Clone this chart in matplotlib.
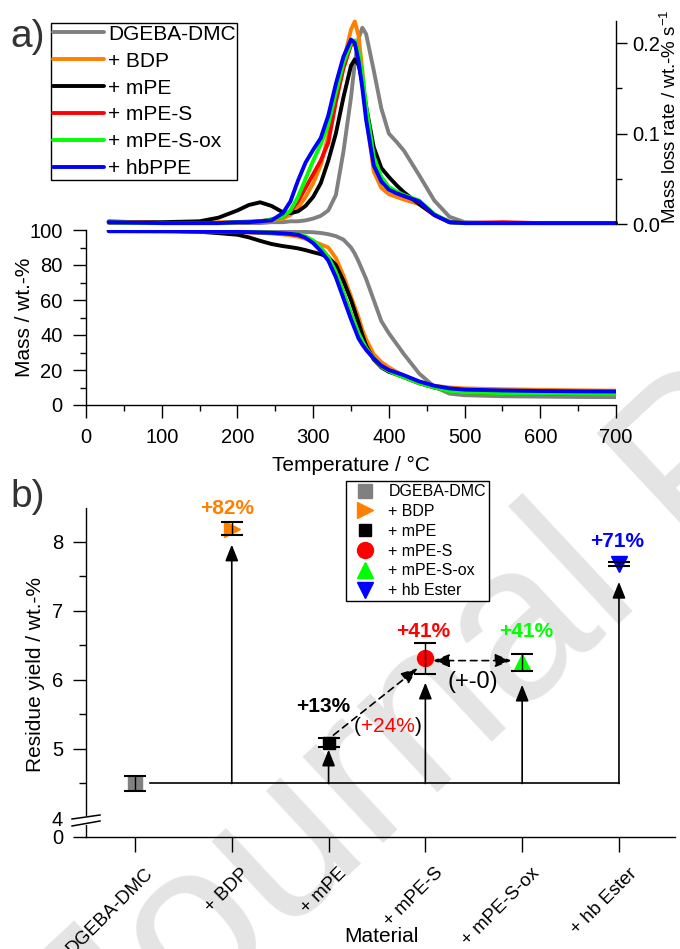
import numpy as np
import matplotlib
matplotlib.use('Agg')
from matplotlib import pyplot as plt
from matplotlib.ticker import MultipleLocator, FixedLocator, FormatStrFormatter
from matplotlib.lines import Line2D
from matplotlib.transforms import ScaledTranslation

plt.rcParams['font.family'] = ['Liberation Sans', 'DejaVu Sans']
plt.rcParams['mathtext.fontset'] = 'custom'
plt.rcParams['mathtext.rm'] = 'Liberation Sans'
plt.rcParams['mathtext.it'] = 'Liberation Sans:italic'
plt.rcParams['axes.linewidth'] = 1.0

W, H = 680, 949

# ---- a) TGA / DTG ----
series = ['DGEBA-DMC', '+ BDP', '+ mPE', '+ mPE-S', '+ mPE-S-ox', '+ hbPPE']
colors = ['#808080', '#FF8000', '#000000', '#FF0000', '#00FF00', '#0000FF']

temp = [30, 100, 150, 175, 200, 215, 230, 245, 260, 270, 280, 290, 300, 310, 320,
        330, 340, 350, 355, 360, 365, 370, 380, 390, 400, 410, 420, 440, 460, 480,
        500, 550, 600, 650, 700]

mass_dgeba = [99.8, 99.7, 99.6, 99.6, 99.5, 99.5, 99.4, 99.3, 99.2, 99.1, 99.0, 98.9, 98.7, 98.3, 97.6,
              96.5, 94.5, 90.0, 86.5, 82.0, 77.0, 72.0, 60.0, 48.0, 41.0, 35.0, 29.0, 18.0, 10.5, 6.5,
              5.6, 5.0, 4.8, 4.6, 4.5]
mass_bdp = [99.8, 99.7, 99.5, 99.3, 99.0, 98.7, 98.4, 98.0, 97.5, 97.0, 96.2, 95.0, 93.5, 91.8, 90.0,
            84.0, 74.0, 62.0, 56.0, 50.0, 43.0, 37.5, 29.0, 24.5, 21.5, 19.0, 16.8, 13.2, 11.0, 10.0,
            9.5, 9.0, 8.7, 8.4, 8.2]
mass_mpe = [99.8, 99.6, 99.0, 98.2, 97.3, 95.8, 93.8, 92.0, 90.8, 90.2, 89.5, 88.5, 87.3, 86.2, 84.5,
            80.0, 71.0, 60.0, 53.5, 47.0, 40.0, 34.0, 26.0, 21.5, 19.0, 17.5, 16.0, 12.5, 10.0, 8.3,
            7.4, 7.0, 6.8, 6.6, 6.5]
mass_mpes = [99.6, 99.5, 99.3, 99.1, 98.9, 98.7, 98.5, 98.3, 98.0, 97.6, 97.0, 95.8, 93.5, 89.8, 84.5,
             76.0, 64.0, 52.0, 46.5, 41.0, 36.5, 32.5, 26.5, 22.0, 19.5, 17.5, 15.8, 12.5, 10.0, 8.2,
             7.3, 6.8, 6.6, 6.4, 6.3]
mass_mpesox = [99.5, 99.4, 99.2, 99.1, 98.9, 98.8, 98.6, 98.4, 98.2, 97.9, 97.5, 96.3, 94.0, 90.0, 84.5,
               76.0, 64.0, 52.0, 46.5, 41.0, 36.5, 32.5, 26.5, 22.0, 19.5, 17.5, 15.8, 12.5, 10.0, 8.0,
               7.2, 6.8, 6.6, 6.4, 6.3]
mass_hbppe = [99.3, 99.2, 99.1, 99.0, 98.9, 98.8, 98.6, 98.4, 98.1, 97.8, 97.3, 95.5, 92.5, 88.0, 82.5,
              73.0, 61.0, 49.0, 43.5, 38.0, 34.5, 31.5, 26.5, 22.5, 20.0, 18.5, 17.0, 13.5, 11.0, 9.5,
              8.8, 8.3, 8.0, 7.8, 7.7]

rate_dgeba = [0.001, 0.001, 0.001, 0.001, 0.001, 0.001, 0.001, 0.002, 0.002, 0.003, 0.003, 0.004, 0.006, 0.009, 0.015,
              0.032, 0.080, 0.140, 0.178, 0.205, 0.217, 0.210, 0.170, 0.128, 0.100, 0.091, 0.081, 0.054, 0.026, 0.008,
              0.002, 0.001, 0.001, 0.001, 0.001]
rate_bdp = [0.002, 0.001, 0.001, 0.002, 0.002, 0.003, 0.003, 0.004, 0.006, 0.010, 0.018, 0.030, 0.045, 0.065, 0.098,
            0.140, 0.180, 0.215, 0.224, 0.208, 0.170, 0.120, 0.058, 0.040, 0.033, 0.030, 0.027, 0.022, 0.010, 0.003,
            0.001, 0.001, 0.001, 0.001, 0.001]
rate_mpe = [0.002, 0.002, 0.003, 0.007, 0.015, 0.021, 0.024, 0.020, 0.013, 0.012, 0.014, 0.020, 0.030, 0.045, 0.070,
            0.100, 0.140, 0.175, 0.182, 0.176, 0.157, 0.130, 0.085, 0.062, 0.052, 0.043, 0.035, 0.022, 0.010, 0.002,
            0.001, 0.001, 0.001, 0.001, 0.001]
rate_mpes = [0.003, 0.001, 0.001, 0.001, 0.002, 0.002, 0.003, 0.005, 0.008, 0.014, 0.025, 0.040, 0.055, 0.070, 0.090,
             0.135, 0.172, 0.198, 0.200, 0.188, 0.160, 0.125, 0.070, 0.050, 0.040, 0.035, 0.031, 0.025, 0.010, 0.002,
             0.001, 0.002, 0.001, 0.001, 0.001]
rate_mpesox = [0.002, 0.001, 0.001, 0.001, 0.002, 0.002, 0.003, 0.005, 0.008, 0.015, 0.030, 0.050, 0.070, 0.088, 0.110,
               0.145, 0.178, 0.200, 0.203, 0.190, 0.165, 0.130, 0.075, 0.052, 0.041, 0.036, 0.032, 0.026, 0.011, 0.002,
               0.001, 0.001, 0.001, 0.001, 0.001]
rate_hbppe = [0.002, 0.001, 0.001, 0.001, 0.002, 0.002, 0.003, 0.004, 0.012, 0.025, 0.048, 0.068, 0.082, 0.095, 0.120,
              0.155, 0.185, 0.204, 0.200, 0.180, 0.150, 0.115, 0.065, 0.047, 0.038, 0.034, 0.031, 0.025, 0.010, 0.002,
              0.001, 0.001, 0.001, 0.001, 0.001]

masses = [mass_dgeba, mass_bdp, mass_mpe, mass_mpes, mass_mpesox, mass_hbppe]
rates = [rate_dgeba, rate_bdp, rate_mpe, rate_mpes, rate_mpesox, rate_hbppe]

# ---- b) residue yield ----
materials = ['DGEBA-DMC', '+ BDP', '+ mPE', '+ mPE-S', '+ mPE-S-ox', '+ hb Ester']
residue = [4.50, 8.19, 5.09, 6.32, 6.26, 7.68]
err_low = [0.11, 0.09, 0.06, 0.23, 0.13, 0.03]
err_high = [0.11, 0.09, 0.07, 0.22, 0.12, 0.03]
b_markers = ['s', '>', 's', 'o', '^', 'v']
b_sizes = [9.5, 12, 9, 11.5, 12, 12]
b_colors = ['#808080', '#FF8000', '#000000', '#FF0000', '#00FF00', '#0000FF']
gain_labels = ['', '+82%', '+13%', '+41%', '+41%', '+71%']
arrow_tip = [None, 7.96, 4.99, 5.96, 5.93, 7.42]


def rect(left, top, right, bottom):
    return [left / W, 1 - bottom / H, (right - left) / W, (bottom - top) / H]


fig = plt.figure(figsize=(W / 100, H / 100), dpi=100)
fig.patch.set_facecolor('white')

# watermark behind everything
fig.text(700 / W, 1 - 470 / H, 'Journal Pre-proof', rotation=43, rotation_mode='anchor',
         fontsize=160, color='#e4e4e4', ha='center', va='center', zorder=-1)

ax_mass = fig.add_axes(rect(86, 230, 616, 405))
ax_rate = fig.add_axes(rect(86, 21, 616, 224))
for ax in (ax_mass, ax_rate):
    ax.set_facecolor('none')

for m, col in zip(masses, colors):
    ax_mass.plot(temp, m, color=col, lw=2.8, solid_capstyle='round')
for r, col, name in zip(rates, colors, series):
    ax_rate.plot(temp, r, color=col, lw=2.8, label=name, solid_capstyle='round', clip_on=False)

ax_mass.set_xlim(0, 700)
ax_mass.set_ylim(0, 100)
ax_mass.spines['top'].set_visible(False)
ax_mass.spines['right'].set_visible(False)
ax_mass.xaxis.set_major_locator(MultipleLocator(100))
ax_mass.xaxis.set_minor_locator(MultipleLocator(50))
ax_mass.yaxis.set_major_locator(MultipleLocator(20))
ax_mass.yaxis.set_minor_locator(MultipleLocator(10))
ax_mass.tick_params(which='major', direction='out', length=9.4, width=1.0, labelsize=14.5)
ax_mass.tick_params(which='minor', direction='out', length=4.5, width=1.0)
ax_mass.tick_params(axis='x', pad=7)
ax_mass.tick_params(axis='y', pad=7.5)
ax_mass.set_xlabel('Temperature / °C', fontsize=15, va='center')
ax_mass.xaxis.set_label_coords(351 / W, 1 - 465 / H, transform=fig.transFigure)
ax_mass.set_ylabel('Mass / wt.-%', fontsize=15, va='center')
ax_mass.yaxis.set_label_coords(25 / W, 1 - 317 / H, transform=fig.transFigure)

ax_rate.set_xlim(0, 700)
ax_rate.set_ylim(0, 0.2245)
for s in ('left', 'top', 'bottom'):
    ax_rate.spines[s].set_visible(False)
ax_rate.set_xticks([])
ax_rate.yaxis.tick_right()
ax_rate.yaxis.set_major_locator(MultipleLocator(0.1))
ax_rate.yaxis.set_minor_locator(MultipleLocator(0.05))
ax_rate.yaxis.set_major_formatter(FormatStrFormatter('%.1f'))
ax_rate.tick_params(axis='y', which='major', direction='out', length=8, width=1.0, labelsize=14.5, pad=3.5)
ax_rate.tick_params(axis='y', which='minor', direction='out', length=4.5, width=1.0)
ax_rate.yaxis.set_label_position('right')
ax_rate.set_ylabel(r'Mass loss rate / wt.-% s$^{\mathregular{-1}}$', fontsize=13.5, va='center')
ax_rate.yaxis.set_label_coords(670 / W, 1 - 117 / H, transform=fig.transFigure)

leg = ax_rate.legend(loc='upper left', bbox_to_anchor=(51 / W, 1 - 23 / H),
                     bbox_transform=fig.transFigure, fontsize=15, frameon=True,
                     fancybox=False, edgecolor='black', framealpha=1, borderpad=0.08,
                     handlelength=2.45, handletextpad=0.2, labelspacing=0.38, borderaxespad=0)
leg.get_frame().set_linewidth(1.0)

fig.text(10 / W, 1 - 37 / H, 'a)', fontsize=28, color='#333333', ha='left', va='center')
fig.text(10 / W, 1 - 497 / H, 'b)', fontsize=28, color='#333333', ha='left', va='center')

# ---- panel b ----
ax_b = fig.add_axes(rect(86, 508, 675, 837))
ax_b.set_facecolor('none')
xpos = np.arange(len(materials))
ax_b.set_xlim(-0.506, 5.579)
ax_b.set_ylim(3.725, 8.49)

# baseline at reference residue and arrows up to each material
ax_b.plot([0.155, xpos[-1]], [residue[0], residue[0]], color='black', lw=1.2, zorder=1)
head = '-|>,head_length=0.55,head_width=0.22'
for i in range(1, len(materials)):
    ax_b.annotate('', xy=(xpos[i], arrow_tip[i]), xytext=(xpos[i], residue[0]),
                  arrowprops=dict(arrowstyle=head, color='black', lw=1.2, mutation_scale=18,
                                  shrinkA=0, shrinkB=0), zorder=1)

# dashed comparisons
ax_b.annotate('', xy=(2.92, 6.17), xytext=(2.05, 5.20),
              arrowprops=dict(arrowstyle=head, color='black', lw=1.2, ls=(0, (4, 3)),
                              mutation_scale=18, shrinkA=0, shrinkB=0))
ax_b.annotate('', xy=(3.89, 6.28), xytext=(3.08, 6.28),
              arrowprops=dict(arrowstyle='<|-|>,head_length=0.55,head_width=0.22', color='black',
                              lw=1.2, ls=(0, (4, 3)), mutation_scale=18, shrinkA=0, shrinkB=0))

for i in range(len(materials)):
    ax_b.plot(xpos[i], residue[i], marker=b_markers[i], ms=b_sizes[i], color=b_colors[i],
              mec=b_colors[i], ls='none', label=materials[i], zorder=3)
ax_b.errorbar(xpos, residue, yerr=[err_low, err_high], fmt='none', ecolor='black',
              elinewidth=1.0, capsize=8, capthick=1.5, zorder=4)

gain_pos = [None, (0.95, 8.49), (1.94, 5.62), (2.98, 6.70), (4.04, 6.70), (4.98, 8.00)]
for i in range(1, len(materials)):
    ax_b.text(gain_pos[i][0], gain_pos[i][1], gain_labels[i], color=b_colors[i],
              fontsize=15, fontweight='bold', ha='center', va='center', zorder=5)

t1 = ax_b.text(2.26, 5.33, '(', fontsize=15, color='black', ha='left', va='center')
t2 = ax_b.annotate('+24%', xy=(1, 0), xycoords=t1, fontsize=15, color='#FF0000',
                   ha='left', va='bottom')
ax_b.annotate(')', xy=(1, 0), xycoords=t2, fontsize=15, color='black', ha='left', va='bottom')
ax_b.text(3.49, 5.97, '(+-0)', fontsize=17, color='black', ha='center', va='center')

ax_b.spines['top'].set_visible(False)
ax_b.spines['right'].set_visible(False)
ax_b.set_yticks([3.725, 4, 5, 6, 7, 8])
ax_b.set_yticklabels(['0', '4', '5', '6', '7', '8'])
ax_b.yaxis.set_minor_locator(FixedLocator([4.5, 5.5, 6.5, 7.5]))
ax_b.tick_params(axis='y', which='major', direction='out', length=9.4, width=1.0, labelsize=14.5, pad=7)
ax_b.tick_params(axis='y', which='minor', direction='out', length=5, width=1.0)
ax_b.yaxis.get_major_ticks()[1].tick1line.set_visible(False)

ax_b.set_xticks(xpos)
ax_b.set_xticklabels(materials, rotation=45, ha='right', va='center', rotation_mode='anchor')
ax_b.tick_params(axis='x', direction='out', length=10.8, width=1.0, labelsize=13.5, pad=13.5)
shift = ScaledTranslation(0.15, 0, fig.dpi_scale_trans)
for lab in ax_b.get_xticklabels():
    lab.set_transform(lab.get_transform() + shift)

ax_b.set_xlabel('Material', fontsize=15, va='center')
ax_b.xaxis.set_label_coords(381 / W, 1 - 937 / H, transform=fig.transFigure)
ax_b.set_ylabel('Residue yield / wt.-%', fontsize=15, va='center')
ax_b.yaxis.set_label_coords(36 / W, 1 - 674 / H, transform=fig.transFigure)

# axis break marks on the residue axis
fig.add_artist(Line2D([86 / W, 86 / W], [1 - 817.5 / H, 1 - 823 / H], color='white', lw=3,
                      transform=fig.transFigure))
for y0, y1 in ((819, 815), (826, 821)):
    fig.add_artist(Line2D([72 / W, 100 / W], [1 - y0 / H, 1 - y1 / H], color='black', lw=1.1,
                          transform=fig.transFigure))

leg_b = ax_b.legend(loc='upper left', bbox_to_anchor=(346 / W, 1 - 481 / H),
                    bbox_transform=fig.transFigure, fontsize=11.5, frameon=True, fancybox=False,
                    edgecolor='black', framealpha=1, borderpad=0.2, handlelength=2.0,
                    handletextpad=0.45, labelspacing=0.3, borderaxespad=0, numpoints=1)
leg_b.get_frame().set_linewidth(1.0)

fig.savefig('out.png', dpi=100)
